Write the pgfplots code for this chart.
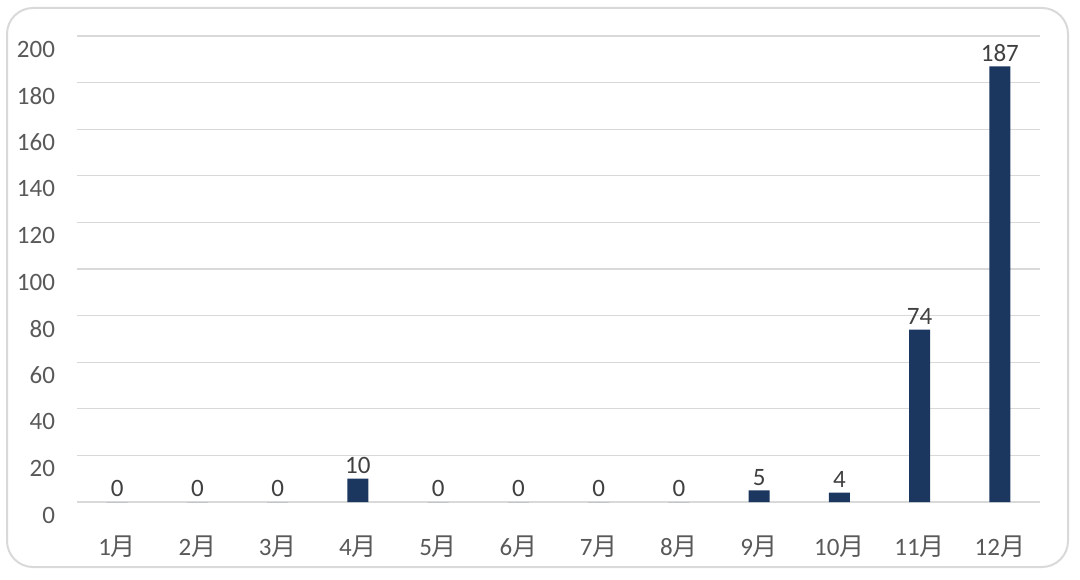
\documentclass[border=0pt]{standalone}
\usepackage{fontspec}
\setmainfont{Carlito}
\newfontfamily\cjk{Noto Sans CJK SC}
\usepackage{pgfplots}
\pgfplotsset{compat=1.18}
\definecolor{barblue}{HTML}{1B365F}
\definecolor{gridgray}{HTML}{D9D9D9}
\definecolor{ticktxt}{HTML}{595959}
\definecolor{lbltxt}{HTML}{404040}
\begin{document}
\begin{tikzpicture}[x=0.5pt,y=0.5pt]
\useasboundingbox (0,0) rectangle (1080,579);
\draw[gridgray, line width=1pt, rounded corners=13pt] (7,12) rectangle (1068,571);
\begin{axis}[
  at={(58.5625pt,38.5pt)}, anchor=origin,
  scale only axis,
  width=481.5pt, height=233pt,
  xmin=-0.5, xmax=11.5, ymin=0, ymax=200,
  ytick={0,20,...,200},
  xtick={0,...,11},
  xticklabels={1{\cjk 月},2{\cjk 月},3{\cjk 月},4{\cjk 月},5{\cjk 月},6{\cjk 月},7{\cjk 月},8{\cjk 月},9{\cjk 月},10{\cjk 月},11{\cjk 月},12{\cjk 月}},
  ymajorgrids,
  grid style={gridgray, line width=0.6pt},
  axis line style={draw=none},
  major tick length=0pt,
  /pgf/number format/assume math mode=true,
  tick label style={font=\fontsize{12.5}{14}\selectfont, text=ticktxt},
  y tick label style={yshift=-6.5pt, xshift=-7.5pt},
  x tick label style={yshift=-13.5pt},
  ybar, bar width=10.5pt,
  nodes near coords,
  every node near coord/.append style={font=\fontsize{12.5}{14}\selectfont, text=lbltxt, yshift=-1pt},
  clip=false,
]
\addplot[fill=barblue, draw=none] coordinates {
(0,0) (1,0) (2,0) (3,10) (4,0) (5,0) (6,0) (7,0) (8,5) (9,4) (10,74) (11,187)
};
\end{axis}
\end{tikzpicture}
\end{document}
